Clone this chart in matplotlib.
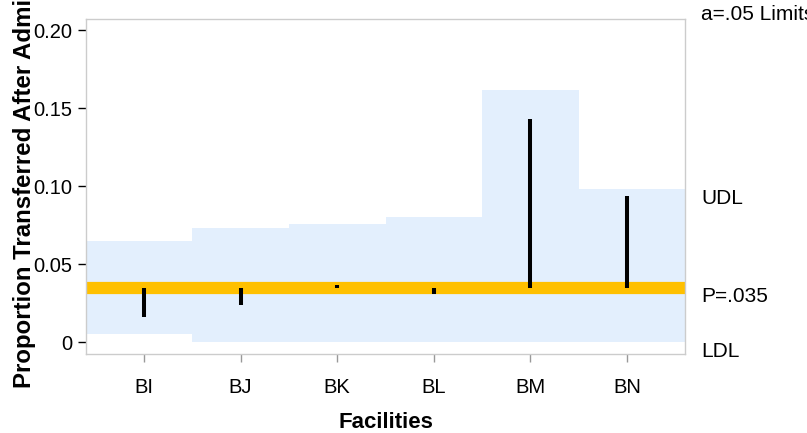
import numpy as np
import matplotlib
matplotlib.use('Agg')
import matplotlib.pyplot as plt
from matplotlib.transforms import blended_transform_factory

plt.rcParams['font.family'] = ['Liberation Sans', 'DejaVu Sans']

# Data
facilities = ['BI', 'BJ', 'BK', 'BL', 'BM', 'BN']
proportion = [0.016, 0.024, 0.0367, 0.031, 0.143, 0.094]
udl = [0.065, 0.073, 0.076, 0.080, 0.162, 0.098]
ldl = [0.005, 0.0, 0.0, 0.0, 0.0, 0.0]
p_bar = 0.035
yticks = [0, 0.05, 0.10, 0.15, 0.20]
ytick_labels = ['0', '0.05', '0.10', '0.15', '0.20']

band_color = '#e3effd'
line_color = '#ffc000'
spine_color = '#cccccc'

fig = plt.figure(figsize=(8.07, 4.33), dpi=100)
ax = fig.add_axes([86 / 807, 79 / 433, 599 / 807, 335 / 433])

x = np.arange(len(facilities))
xmin, xmax = -0.6, len(facilities) - 0.4

# Limit bands as steps, first/last run to the axes edge
edges = np.concatenate(([xmin], x[:-1] + 0.5, [xmax]))
ax.fill_between(edges, ldl + [ldl[-1]], udl + [udl[-1]], step='post',
                color=band_color, linewidth=0, zorder=1)

# Center line
ax.axhline(p_bar, color=line_color, linewidth=8.8, zorder=2)

# Deviations from the center line
ax.vlines(x, p_bar, proportion, color='black', linewidth=2.9,
          capstyle='butt', zorder=3)

ax.set_xlim(xmin, xmax)
ax.set_ylim(-0.0075, 0.2072)
ax.set_xticks(x)
ax.set_xticklabels(facilities)
ax.set_yticks(yticks)
ax.set_yticklabels(ytick_labels)
ax.tick_params(axis='y', length=5.8, width=1, color='black', pad=4.3, labelsize=14.5)
ax.tick_params(axis='x', length=5.5, width=1, color='#999999', pad=11.5, labelsize=14.5)
for s in ax.spines.values():
    s.set_color(spine_color)
    s.set_linewidth(1)

ax.set_xlabel('Facilities', fontsize=16, fontweight='bold')
ax.xaxis.set_label_coords(0.5, -0.172)

fig.text(25 / 807, (433 - 388) / 433, 'Proportion Transferred After Admission',
         rotation=90, ha='center', va='bottom', fontsize=17.3, fontweight='bold')

# Labels to the right of the plot
tr = blended_transform_factory(ax.transAxes, ax.transData)
for val, lab in [(udl[-1], 'UDL'), (p_bar, 'P=.035'), (ldl[-1], 'LDL')]:
    ax.annotate(lab, xy=(1.027, val), xycoords=tr, xytext=(0, -10.5),
                textcoords='offset points', va='baseline', ha='left',
                fontsize=15, annotation_clip=False)
fig.text(701 / 807, (433 - 20) / 433, 'a=.05 Limits', ha='left', va='baseline',
         fontsize=15)

fig.savefig('out.png', dpi=100)
